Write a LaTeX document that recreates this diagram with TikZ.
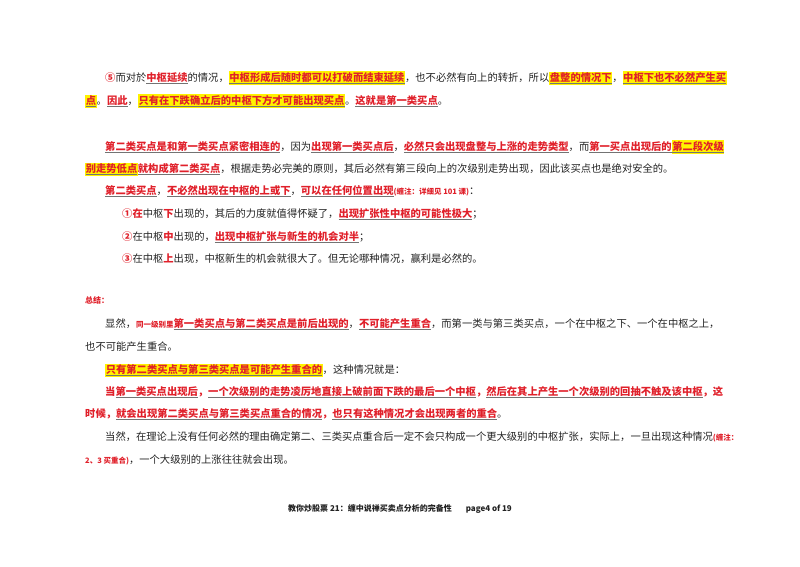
\documentclass[tikz,border=0pt]{standalone}
\usepackage{fontspec}
\setmainfont{Noto Sans CJK SC}
\definecolor{rd}{HTML}{E0202A}
\definecolor{yl}{HTML}{FFF200}
\definecolor{tx}{HTML}{222222}
\newcommand{\rb}[1]{{\color{black!55}\underline{\color{rd}\bfseries #1}}}
\newcommand{\rr}[1]{{\color{rd}\bfseries #1}}
\newcommand{\hl}[1]{{\setlength{\fboxsep}{0.6pt}\colorbox{yl}{#1}}}
\newcommand{\sm}[1]{{\fontsize{7.5}{8}\selectfont\color{rd}\bfseries #1}}
\begin{document}
\begin{tikzpicture}[x=1pt,y=-1pt,
  ln/.style={anchor=base west,inner sep=0pt,font=\fontsize{10.3}{12}\selectfont,text=tx}]
\useasboundingbox (0,0) rectangle (800,566);
\node[ln] (l1) at (105,81) {\rr{⑤}而对於\rb{中枢延续}的情况，\hl{\rb{中枢形成后随时都可以打破而结束延续}}，也不必然有向上的转折，所以\hl{\rb{盘整的情况下}}，\hl{\rb{中枢下也不必然产生买}}};
\node[ln] (l2) at (85,104) {\hl{\rb{点}}。\rb{因此}，\hl{\rb{只有在下跌确立后的中枢下方才可能出现买点}}。\rb{这就是第一类买点}。};
\node[ln] (l3) at (105,150) {\rb{第二类买点是和第一类买点紧密相连的}，因为\rb{出现第一类买点后}，\rb{必然只会出现盘整与上涨的走势类型}，而\rb{第一买点出现后的}\hl{\rb{第二段次级}}};
\node[ln] (l4) at (85,172) {\hl{\rb{别走势低点}}\rb{就构成第二类买点}，根据走势必完美的原则，其后必然有第三段向上的次级别走势出现，因此该买点也是绝对安全的。};
\node[ln] (l5) at (105,194) {\rb{第二类买点}，\rb{不必然出现在中枢的上或下}，\rb{可以在任何位置出现}\sm{(缠注：详细见 101 课)}：};
\node[ln] (l6) at (122,217) {\rr{①在}中枢\rr{下}出现的，其后的力度就值得怀疑了，\rb{出现扩张性中枢的可能性极大}；};
\node[ln] (l7) at (122,240) {\rr{②}在中枢\rr{中}出现的，\rb{出现中枢扩张与新生的机会对半}；};
\node[ln] (l8) at (122,262) {\rr{③}在中枢\rr{上}出现，中枢新生的机会就很大了。但无论哪种情况，赢利是必然的。};
\node[ln,font=\fontsize{8}{9}\selectfont] (l9) at (85,303) {\rr{总结：}};
\node[ln] (l10) at (105,327) {显然，\sm{同一级别里}\rb{第一类买点与第二类买点是前后出现的}，\rb{不可能产生重合}，而第一类与第三类买点，一个在中枢之下、一个在中枢之上，};
\node[ln] (l11) at (85,350) {也不可能产生重合。};
\node[ln] (l12) at (105,373) {\hl{\rb{只有第二类买点与第三类买点是可能产生重合的}}，这种情况就是：};
\node[ln] (l13) at (105,395) {\rr{当}\rb{第一类买点出现后}\rr{，}\rb{一个次级别的走势凌厉地直接上破前面下跌的最后一个中枢}\rr{，}\rb{然后在其上产生一个次级别的回抽不触及该中枢}\rr{，这}};
\node[ln] (l14) at (85,417) {\rr{时候，}\rb{就会出现第二类买点与第三类买点重合的情况}\rr{，}\rb{也只有这种情况才会出现两者的重合}。};
\node[ln] (l15) at (105,440) {当然，在理论上没有任何必然的理由确定第二、三类买点重合后一定不会只构成一个更大级别的中枢扩张，实际上，一旦出现这种情况\sm{(缠注：}};
\node[ln] (l16) at (85,463) {\sm{2、3 买重合)}，一个大级别的上涨往往就会出现。};
\node[anchor=base,inner sep=0pt,font=\fontsize{8}{9}\selectfont\bfseries,text=tx] (ft) at (400,511) {教你炒股票 21：缠中说禅买卖点分析的完备性\hspace{14pt}page4 of 19};
\end{tikzpicture}
\end{document}
